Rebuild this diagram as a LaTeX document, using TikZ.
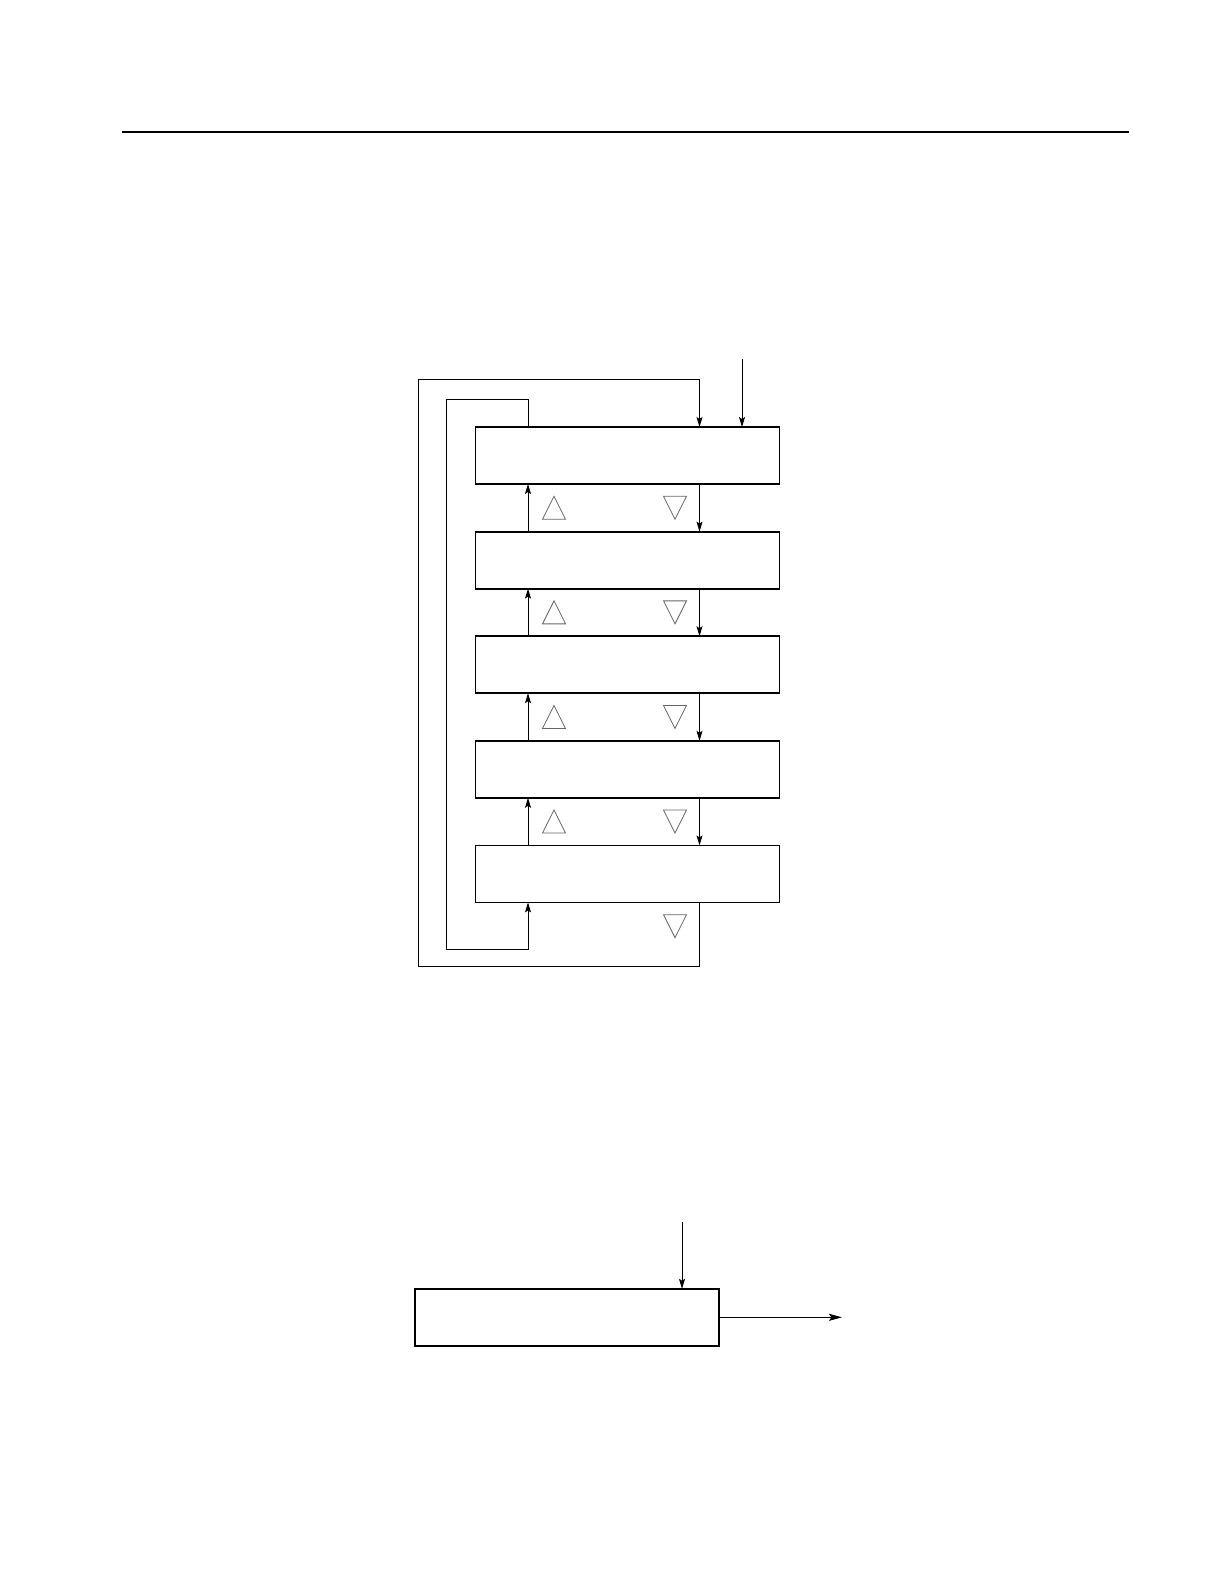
\documentclass[tikz,border=0pt]{standalone}
\usepackage{tikz}
\usetikzlibrary{arrows.meta}
\usetikzlibrary{positioning}

\tikzset{
  stagebox/.style={draw, line width=0.9pt, rectangle, outer sep=0pt,
    minimum width=152pt, minimum height=28.5pt, inner sep=0pt},
  link/.style={line width=0.45pt},
  tri/.style={draw=black!60, line width=0.4pt}
}

\begin{document}
\begin{tikzpicture}[x=0.5pt, y=-0.5pt, >={Stealth[length=5pt, width=3pt, inset=1pt]}]
  \useasboundingbox (0, 0) rectangle (1224, 1584);
  \draw[line width=0.55pt] (122, 132) -- (1129, 132);

  % the five stages
  \foreach \i in {1, ..., 5}
    \node[stagebox] (b\i) at (627.5, {455.5 + (\i - 1) * 104.6}) {};

  \coordinate (upx) at (528, 0);
  \coordinate (dnx) at (699.5, 0);
  \coordinate (in1) at (742, 359);

  \foreach \i [evaluate = \i as \j using int(\i + 1)] in {1, ..., 4} {
    \draw[link, ->] (b\j.north -| upx) -- (b\i.south -| upx);
    \draw[link, ->] (b\i.south -| dnx) -- (b\j.north -| dnx);
  }

  % triangles
  \foreach \i in {1, ..., 4} {
    \pgfmathsetmacro\ty{507.75 + (\i - 1) * 104.6}
    \draw[tri] (542.5, \ty + 11.5) -- (554, \ty - 11.5) -- (565.5, \ty + 11.5) -- cycle;
  }
  \foreach \i in {1, ..., 5} {
    \pgfmathsetmacro\ty{507.75 + (\i - 1) * 104.6}
    \draw[tri] (663.5, \ty - 11.5) -- (686.5, \ty - 11.5) -- (675, \ty + 11.5) -- cycle;
  }

  % loops
  \coordinate (ob) at (418, 966);
  \coordinate (ot) at (418, 379);
  \coordinate (ib) at (446, 949);
  \coordinate (it) at (446, 399);
  \draw[link, ->] (b5.south -| dnx) -- (dnx |- ob) -- (ob) -- (ot) -- (dnx |- ot)
    -- (b1.north -| dnx);
  \draw[link, ->] (b1.north -| upx) -- (upx |- it) -- (it) -- (ib) -- (upx |- ib)
    -- (b5.south -| upx);
  \draw[link, ->] (in1) -- (b1.north -| in1);

  % result stage
  \node[stagebox] (res) at (567, 1317.3) {};
  \coordinate (in2) at (682, 1222);
  \coordinate (out) at (842, 1317.3);
  \draw[link, ->] (in2) -- (res.north -| in2);
  \draw[link, -{Stealth[length=6.5pt, width=3.5pt, inset=1.2pt]}] (res.east) -- (out);
\end{tikzpicture}
\end{document}
